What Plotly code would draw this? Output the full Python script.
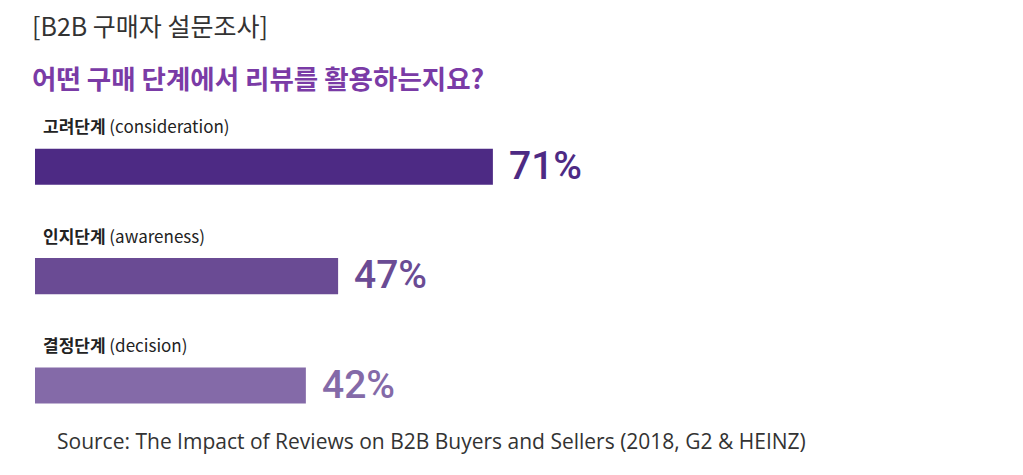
import plotly.graph_objects as go

stages_kr = ["고려단계", "인지단계", "결정단계"]
stages_en = ["(consideration)", "(awareness)", "(decision)"]
values = [71, 47, 42]
value_labels = ["71%", "47%", "42%"]
bar_colors = ["#4D2A84", "#6A4B94", "#846AA8"]

title = "[B2B 구매자 설문조사]"
subtitle = "어떤 구매 단계에서 리뷰를 활용하는지요?"
source = "Source: The Impact of Reviews on B2B Buyers and Sellers (2018, G2 & HEINZ)"

kr_font = "Noto Sans CJK KR"
categories = [k + " " + e for k, e in zip(stages_kr, stages_en)]

fig = go.Figure(go.Bar(
    x=values,
    y=categories,
    orientation="h",
    width=0.33,
    marker=dict(color=bar_colors, line=dict(width=0)),
    hoverinfo="skip",
))

# category names above each bar
for cat, k, e in zip(categories, stages_kr, stages_en):
    fig.add_annotation(x=0, y=cat, xref="x", yref="y", text="<b>" + k + "</b> " + e,
                       showarrow=False, xanchor="left", yanchor="middle",
                       xshift=6, yshift=41,
                       font=dict(family=kr_font, size=17, color="#222222"))

# percentage values right of each bar
for cat, v, lab, col in zip(categories, values, value_labels, bar_colors):
    fig.add_annotation(x=v, y=cat, xref="x", yref="y", text=lab,
                       showarrow=False, xanchor="left", yanchor="middle",
                       xshift=14, yshift=1,
                       font=dict(family="Roboto", size=39, color=col, weight=500))

fig.add_annotation(x=-0.005, y=1.264, xref="paper", yref="paper", text=title,
                   showarrow=False, xanchor="left", yanchor="middle",
                   font=dict(family=kr_font, size=25, color="#333333"))
fig.add_annotation(x=-0.005, y=1.106, xref="paper", yref="paper", text="<b>" + subtitle + "</b>",
                   showarrow=False, xanchor="left", yanchor="middle",
                   font=dict(family=kr_font, size=26.5, color="#7A3BA6"))
fig.add_annotation(x=0.02, y=0.0, xref="paper", yref="paper", text=source,
                   showarrow=False, xanchor="left", yanchor="middle",
                   font=dict(family="Open Sans", size=21, color="#333333"))

fig.update_xaxes(range=[0, 153.2], visible=False)
fig.update_yaxes(categoryorder="array", categoryarray=categories,
                 autorange="reversed", visible=False)
fig.update_layout(width=1023, height=475,
                  margin=dict(l=27, r=8, t=104, b=42),
                  paper_bgcolor="white", plot_bgcolor="white",
                  showlegend=False)

fig.write_html("out.html")
